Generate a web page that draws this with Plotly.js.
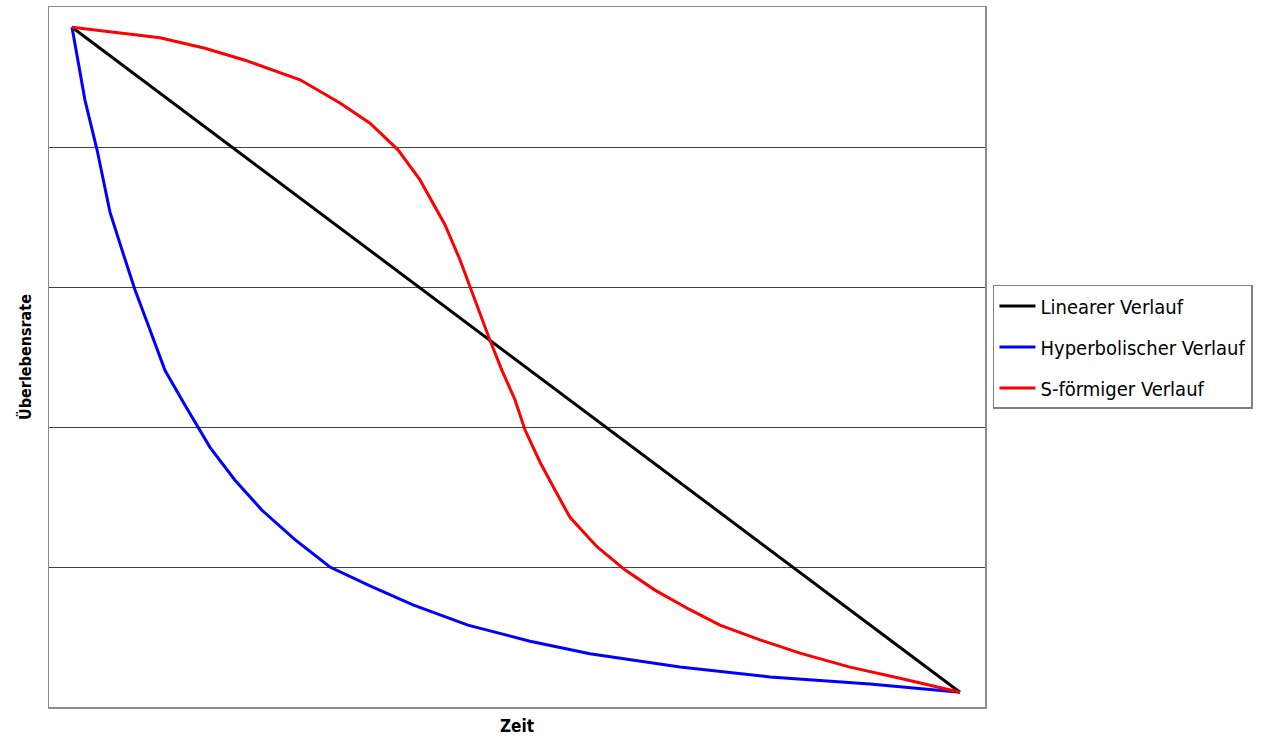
<!DOCTYPE html>
<html>
<head>
<meta charset="utf-8">
<script src="https://cdn.plot.ly/plotly-3.0.1.min.js"></script>
<style>html,body{margin:0;padding:0;background:#fff;}#chart{width:1261px;height:744px;}</style>
</head>
<body>
<div id="chart"></div>
<script>
const seriesNames = ["Linearer Verlauf", "Hyperbolischer Verlauf", "S-förmiger Verlauf"];
const seriesColors = ["#000000", "#0000ff", "#ff0000"];

const linearX = [0, 10, 20, 30, 40, 50, 60, 70, 80, 90, 100];
const linearY = [97.1, 87.6, 78.1, 68.6, 59.1, 49.6, 40.1, 30.6, 21.1, 11.6, 2.1];

const hyperX = [0, 1.46, 2.82, 4.28, 5.63, 7.09, 8.45, 10.47, 12.73, 15.54, 18.36, 21.40, 25.11, 29.05, 33.56, 38.40, 44.59, 51.58, 58.33, 68.47, 78.60, 89.86, 100];
const hyperY = [97.1, 86.7, 79.6, 70.7, 65.3, 59.6, 55.0, 48.1, 43.1, 37.1, 32.4, 28.1, 23.9, 20.0, 17.3, 14.6, 11.7, 9.4, 7.6, 5.7, 4.3, 3.3, 2.1];

const sX = [0, 5.41, 9.91, 14.98, 19.48, 25.68, 30.18, 33.56, 36.71, 39.19, 42.00, 43.69, 45.38, 47.07, 48.42, 49.89, 51.01, 52.70, 54.39, 56.08, 59.12, 62.27, 65.65, 69.59, 72.97, 77.48, 81.98, 87.61, 93.24, 100];
const sY = [97.1, 96.3, 95.6, 94.1, 92.4, 89.6, 86.3, 83.4, 79.6, 75.3, 68.9, 63.9, 58.1, 52.4, 48.1, 43.9, 39.6, 35.0, 31.0, 27.1, 22.9, 19.6, 16.7, 13.9, 11.7, 9.6, 7.7, 5.7, 4.1, 2.1];

const xs = [linearX, hyperX, sX];
const ys = [linearY, hyperY, sY];

const font = "'Liberation Sans Narrow', 'DejaVu Sans Condensed', 'Arial Narrow', sans-serif";

const traces = seriesNames.map((n, i) => ({
  type: "scatter", mode: "lines", name: n, legendgroup: "g" + i,
  x: xs[i], y: ys[i],
  line: {color: seriesColors[i], width: 3}
}));

const layout = {
  width: 1261, height: 744,
  margin: {l: 49, r: 276, t: 7, b: 37},
  paper_bgcolor: "#fff", plot_bgcolor: "#fff",
  font: {family: font, color: "#000"},
  showlegend: true,
  legend: {
    x: 1.0085, xanchor: "left", y: 0.603, yanchor: "top",
    bordercolor: "#808080", borderwidth: 1.5, bgcolor: "#fff",
    font: {family: font, size: 20, color: "#000"},
    tracegroupgap: 12, itemwidth: 36
  },
  xaxis: {
    range: [-2.59, 102.82], showgrid: false, zeroline: false,
    showticklabels: false, ticks: "",
    showline: true, mirror: true, linecolor: "#8c8c8c", linewidth: 1.5,
    title: {text: "<b>Zeit</b>", font: {family: font, size: 17}, standoff: 12}
  },
  yaxis: {
    range: [0, 100], dtick: 20, showgrid: true, gridcolor: "#404040", gridwidth: 1,
    zeroline: false, showticklabels: false, ticks: "",
    showline: true, mirror: true, linecolor: "#8c8c8c", linewidth: 1.5,
    title: {text: "<b>Überlebensrate</b>", font: {family: font, size: 16}, standoff: 12}
  }
};

Plotly.newPlot("chart", traces, layout, {displayModeBar: false, staticPlot: true});
</script>
</body>
</html>
